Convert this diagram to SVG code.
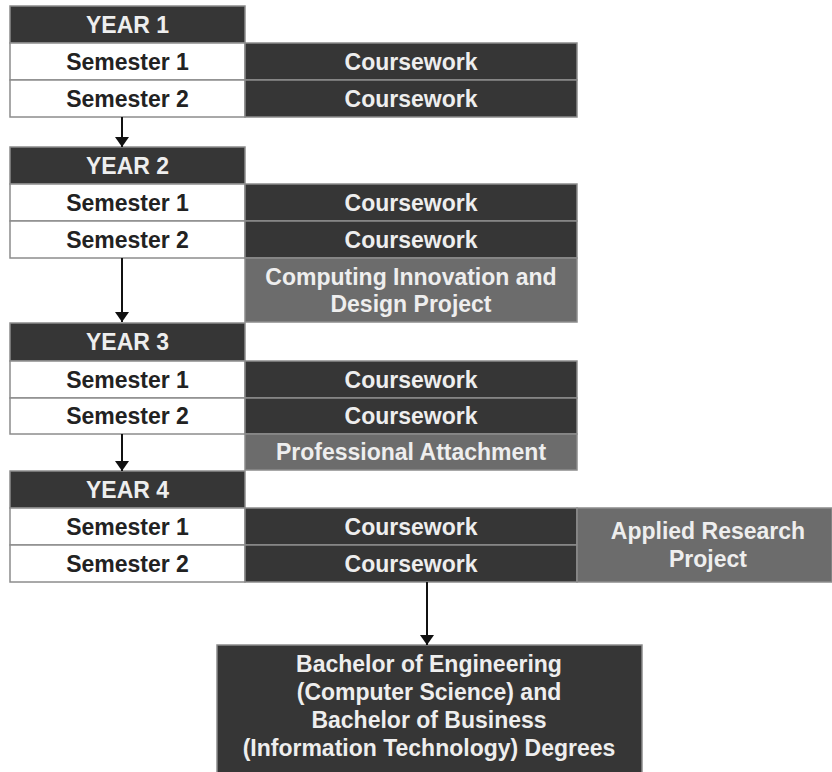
<svg xmlns="http://www.w3.org/2000/svg" width="832" height="772" viewBox="0 0 832 772">
<style>
.dark{fill:#363636;stroke:#8c8c8c;stroke-width:1.5}
.grey{fill:#6c6c6c;stroke:#8c8c8c;stroke-width:1.5}
.white{fill:#ffffff;stroke:#8c8c8c;stroke-width:1.5}
text{font-family:"Liberation Sans",Arial,sans-serif;font-weight:bold;font-size:23px;text-anchor:middle;dominant-baseline:central}
.lt{fill:#eeeeee}
.bk{fill:#222222}
.conn line{stroke:#111;stroke-width:2}
</style>
<defs>
<marker id="ah" viewBox="0 0 10 14" refX="10" refY="7" markerWidth="10" markerHeight="14" markerUnits="userSpaceOnUse" orient="auto">
<path d="M0,0 L10,7 L0,14 Z" fill="#111"/>
</marker>
</defs>

<g id="year1">
<rect class="dark" x="10" y="6" width="235" height="37"/><text class="lt" x="127.5" y="25">YEAR 1</text>
<rect class="white" x="10" y="43" width="235" height="37"/><text class="bk" x="127.5" y="62">Semester 1</text>
<rect class="white" x="10" y="80" width="235" height="37"/><text class="bk" x="127.5" y="99">Semester 2</text>
<rect class="dark" x="245" y="43" width="332" height="37"/><text class="lt" x="411" y="62">Coursework</text>
<rect class="dark" x="245" y="80" width="332" height="37"/><text class="lt" x="411" y="99">Coursework</text>
</g>

<g id="year2">
<rect class="dark" x="10" y="147" width="235" height="37"/><text class="lt" x="127.5" y="166">YEAR 2</text>
<rect class="white" x="10" y="184" width="235" height="37"/><text class="bk" x="127.5" y="203">Semester 1</text>
<rect class="white" x="10" y="221" width="235" height="37"/><text class="bk" x="127.5" y="240">Semester 2</text>
<rect class="dark" x="245" y="184" width="332" height="37"/><text class="lt" x="411" y="203">Coursework</text>
<rect class="dark" x="245" y="221" width="332" height="37"/><text class="lt" x="411" y="240">Coursework</text>
<rect class="grey" x="245" y="258" width="332" height="64"/>
<text class="lt" x="411" y="277">Computing Innovation and</text>
<text class="lt" x="411" y="304">Design Project</text>
</g>

<g id="year3">
<rect class="dark" x="10" y="323" width="235" height="38"/><text class="lt" x="127.5" y="342">YEAR 3</text>
<rect class="white" x="10" y="361" width="235" height="37"/><text class="bk" x="127.5" y="380">Semester 1</text>
<rect class="white" x="10" y="398" width="235" height="36"/><text class="bk" x="127.5" y="416">Semester 2</text>
<rect class="dark" x="245" y="361" width="332" height="37"/><text class="lt" x="411" y="380">Coursework</text>
<rect class="dark" x="245" y="398" width="332" height="36"/><text class="lt" x="411" y="416">Coursework</text>
<rect class="grey" x="245" y="434" width="332" height="36"/><text class="lt" x="411" y="452">Professional Attachment</text>
</g>

<g id="year4">
<rect class="dark" x="10" y="471" width="235" height="37"/><text class="lt" x="127.5" y="490">YEAR 4</text>
<rect class="white" x="10" y="508" width="235" height="37"/><text class="bk" x="127.5" y="527">Semester 1</text>
<rect class="white" x="10" y="545" width="235" height="37"/><text class="bk" x="127.5" y="564">Semester 2</text>
<rect class="dark" x="245" y="508" width="332" height="37"/><text class="lt" x="411" y="527">Coursework</text>
<rect class="dark" x="245" y="545" width="332" height="37"/><text class="lt" x="411" y="564">Coursework</text>
<rect class="grey" x="577" y="508" width="255" height="74"/>
<text class="lt" x="708" y="531">Applied Research</text>
<text class="lt" x="708" y="559">Project</text>
</g>

<g id="degree">
<rect class="dark" x="217" y="645" width="425" height="130"/>
<text class="lt" x="429" y="664">Bachelor of Engineering</text>
<text class="lt" x="429" y="692">(Computer Science) and</text>
<text class="lt" x="429" y="720">Bachelor of Business</text>
<text class="lt" x="429" y="748">(Information Technology) Degrees</text>
</g>

<g class="conn">
<line x1="122" y1="117" x2="122" y2="147" marker-end="url(#ah)"/>
<line x1="122" y1="258" x2="122" y2="322" marker-end="url(#ah)"/>
<line x1="122" y1="434" x2="122" y2="471" marker-end="url(#ah)"/>
<line x1="427" y1="582" x2="427" y2="645" marker-end="url(#ah)"/>
</g>
</svg>
